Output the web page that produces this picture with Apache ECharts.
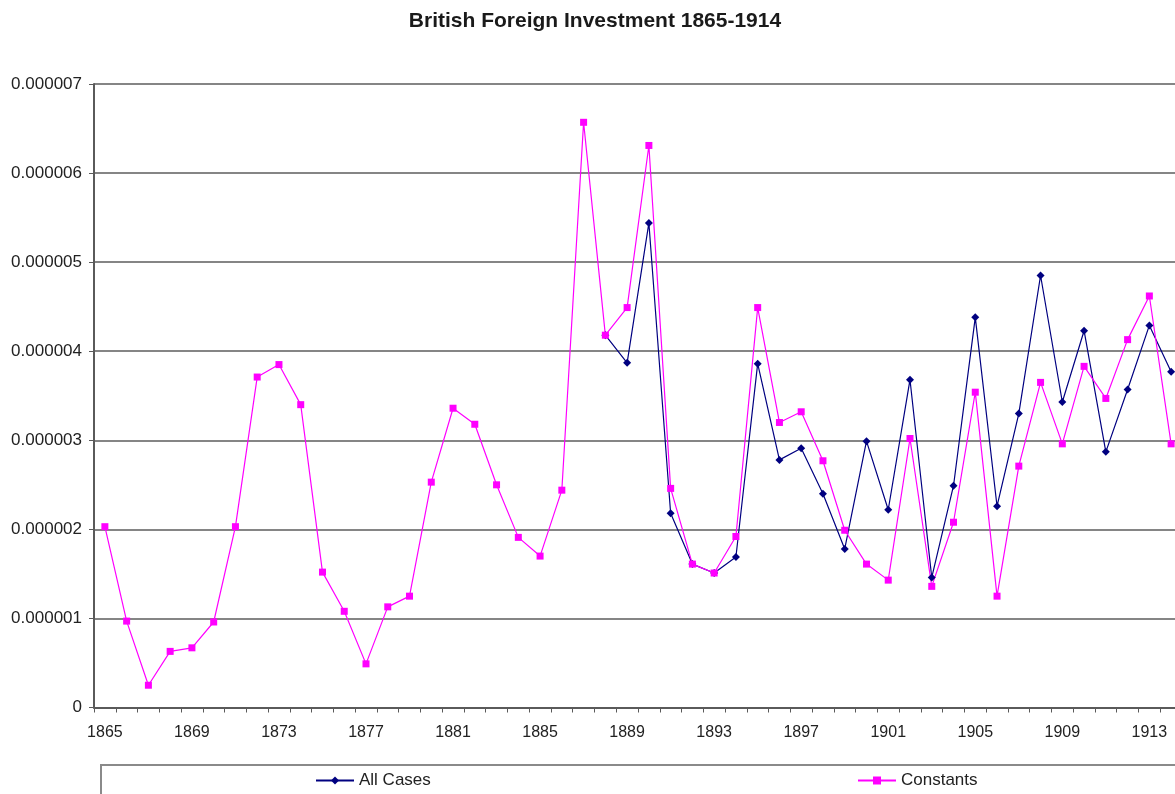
<!DOCTYPE html>
<html>
<head>
<meta charset="utf-8">
<script src="https://cdn.jsdelivr.net/npm/echarts@6/dist/echarts.min.js"></script>
<style>
html,body{margin:0;padding:0;background:#fff;overflow:hidden;width:1175px;height:794px;}
#chart{width:1190px;height:794px;}
</style>
</head>
<body>
<div id="chart"></div>
<script>
const years = ['1865','1866','1867','1868','1869','1870','1871','1872','1873','1874',
  '1875','1876','1877','1878','1879','1880','1881','1882','1883','1884',
  '1885','1886','1887','1888','1889','1890','1891','1892','1893','1894',
  '1895','1896','1897','1898','1899','1900','1901','1902','1903','1904',
  '1905','1906','1907','1908','1909','1910','1911','1912','1913','1914'];

const allCases = [null,null,null,null,null,null,null,null,null,null,
  null,null,null,null,null,null,null,null,null,null,
  null,null,null,4.18e-6,3.87e-6,5.44e-6,2.18e-6,1.61e-6,1.51e-6,1.69e-6,
  3.86e-6,2.78e-6,2.91e-6,2.40e-6,1.78e-6,2.99e-6,2.22e-6,3.68e-6,1.46e-6,2.49e-6,
  4.38e-6,2.26e-6,3.30e-6,4.85e-6,3.43e-6,4.23e-6,2.87e-6,3.57e-6,4.29e-6,3.77e-6];

const constants = [2.03e-6,0.97e-6,0.25e-6,0.63e-6,0.67e-6,0.96e-6,2.03e-6,3.71e-6,3.85e-6,3.40e-6,
  1.52e-6,1.08e-6,0.49e-6,1.13e-6,1.25e-6,2.53e-6,3.36e-6,3.18e-6,2.50e-6,1.91e-6,
  1.70e-6,2.44e-6,6.57e-6,4.18e-6,4.49e-6,6.31e-6,2.46e-6,1.61e-6,1.51e-6,1.92e-6,
  4.49e-6,3.20e-6,3.32e-6,2.77e-6,1.99e-6,1.61e-6,1.43e-6,3.02e-6,1.36e-6,2.08e-6,
  3.54e-6,1.25e-6,2.71e-6,3.65e-6,2.96e-6,3.83e-6,3.47e-6,4.13e-6,4.62e-6,2.96e-6];

const yTicks = { min: 0, max: 7e-6, interval: 1e-6 };

const FONT = 'Liberation Sans, Arial, sans-serif';
const chart = echarts.init(document.getElementById('chart'), null, {renderer:'canvas'});
chart.setOption({
  backgroundColor: '#ffffff',
  animation: false,
  title: {
    text: 'British Foreign Investment 1865-1914',
    left: 'center',
    top: 6,
    textStyle: { fontFamily: FONT, fontSize: 21, fontWeight: 'bold', color: '#1a1a1a' }
  },
  legend: [
    {
      data: ['All Cases'],
      left: 315, top: 772, padding: 0,
      itemWidth: 38, itemHeight: 10, itemGap: 4,
      textStyle: { fontFamily: FONT, fontSize: 17, color: '#222' }
    },
    {
      data: ['Constants'],
      left: 857, top: 772, padding: 0,
      itemWidth: 38, itemHeight: 10, itemGap: 4,
      textStyle: { fontFamily: FONT, fontSize: 17, color: '#222' }
    }
  ],
  graphic: [{
    type: 'rect',
    shape: { x: 101, y: 765, width: 1120, height: 60 },
    style: { fill: 'none', stroke: '#8a8a8a', lineWidth: 2 },
    silent: true, z: -1
  }],
  grid: { left: 94, top: 84, width: 1088, height: 623.5 },
  xAxis: {
    type: 'category',
    data: years,
    boundaryGap: true,
    axisLine: { lineStyle: { color: '#5a5a5a', width: 2 } },
    axisTick: { show: true, interval: 0, length: 5, lineStyle: { color: '#5a5a5a', width: 1 } },
    axisLabel: { interval: 3, margin: 17, fontFamily: FONT, fontSize: 16, color: '#222' },
    splitLine: { show: false }
  },
  yAxis: {
    type: 'value',
    min: yTicks.min, max: yTicks.max, interval: yTicks.interval,
    axisLine: { show: true, lineStyle: { color: '#5a5a5a', width: 2 } },
    axisTick: { show: true, length: 5, lineStyle: { color: '#5a5a5a', width: 1 } },
    axisLabel: {
      margin: 12, fontFamily: FONT, fontSize: 17, color: '#222',
      formatter: v => v === 0 ? '0' : v.toFixed(6)
    },
    splitLine: { show: true, lineStyle: { color: '#858585', width: 2 } }
  },
  series: [
    {
      name: 'All Cases',
      type: 'line',
      data: allCases,
      connectNulls: false,
      symbol: 'diamond',
      symbolSize: 8,
      itemStyle: { color: '#000080' },
      lineStyle: { color: '#000080', width: 1.2 }
    },
    {
      name: 'Constants',
      type: 'line',
      data: constants,
      symbol: 'rect',
      symbolSize: 7,
      itemStyle: { color: '#ff00ff' },
      lineStyle: { color: '#ff00ff', width: 1.2 }
    }
  ]
});
</script>
</body>
</html>
